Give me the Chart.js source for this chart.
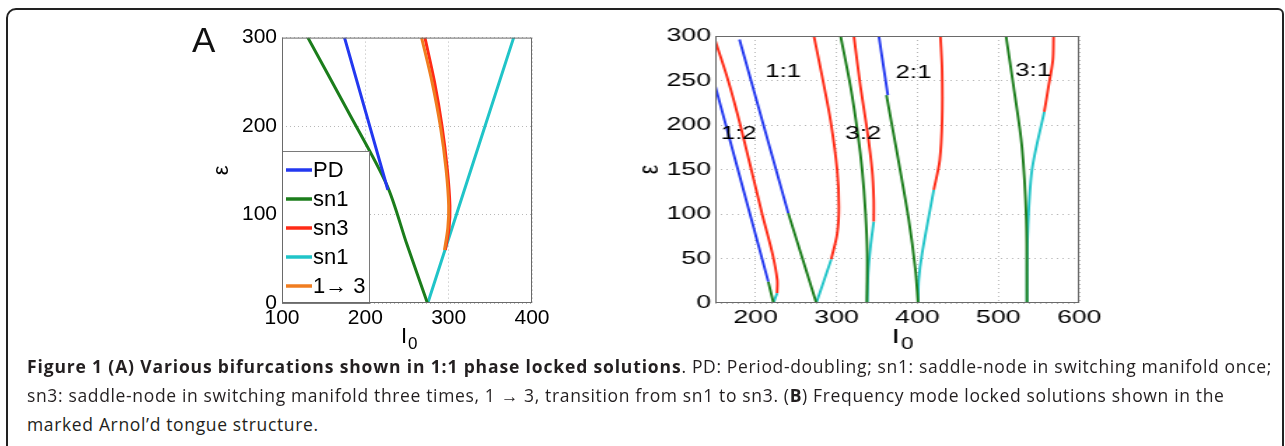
<!DOCTYPE html>
<html>
<head>
<meta charset="utf-8">
<script src="https://cdn.jsdelivr.net/npm/chart.js@4.4.0/dist/chart.umd.min.js"></script>
<style>
  html, body { margin: 0; padding: 0; background: #fff; }
  body { width: 1285px; height: 446px; position: relative; overflow: hidden; }
  #frame { position: absolute; left: 6px; top: 8px; width: 1278px; height: 520px; box-sizing: border-box;
           border: 2px solid #222; border-top-left-radius: 10px; border-top-right-radius: 6px; }
  canvas { position: absolute; }
  #chartA { left: 180px; top: 20px; }
  /* panel B of the original figure is stretched horizontally */
  #chartB { left: 620px; top: 20px; transform: scaleX(1.4); transform-origin: 0 0; }
  #panelA { position: absolute; left: 192px; top: 20px; font: 35px 'Liberation Sans', Arial, sans-serif; color: #111; }
  .cap { position: absolute; left: 27px; font-family: 'Open Sans', sans-serif; font-size: 17.5px; line-height: 22px;
         white-space: nowrap; color: #231f20; letter-spacing: 0.65px; }
  .cap b { font-weight: 700; letter-spacing: 0.85px; }
</style>
</head>
<body>
<div id="frame"></div>
<canvas id="chartA" width="380" height="335"></canvas>
<canvas id="chartB" width="360" height="335"></canvas>
<div id="panelA">A</div>
<div class="cap" style="top:355px"><b>Figure 1 (A) Various bifurcations shown in 1:1 phase locked solutions</b>. PD: Period-doubling; sn1: saddle-node in switching manifold once;</div>
<div class="cap" style="top:384px">sn3: saddle-node in switching manifold three times, 1 → 3, transition from sn1 to sn3. (<b style="letter-spacing:0.65px">B</b>) Frequency mode locked solutions shown in the</div>
<div class="cap" style="top:413px">marked Arnol’d tongue structure.</div>
<script>
// ---- panel A : 1:1 tongue, [I0, eps] pairs
const A_PD = [[175, 300], [227, 128]]
const A_SN1_left = [[131, 300], [179, 217], [226, 133], [250, 66], [274.5, 0]]
const A_SN3 = [[271.5, 300], [283, 250], [292, 200], [298.5, 150], [301.5, 110], [300.5, 85], [296, 60]]
const A_SN1_right = [[275, 0], [378, 300]]
const A_1to3 = [[267.5, 300], [280, 250], [290, 200], [297, 150], [300, 110], [299, 85], [295, 60]]
const A_labels = ['PD', 'sn1', 'sn3', 'sn1', '1\u2192 3']
const A_xTicks = [100, 200, 300, 400]
const A_yTicks = [0, 100, 200, 300]

// ---- panel B : Arnol'd tongues, [I0, eps] pairs
const B12_PD = [[150, 244], [215.6, 24]]
const B12_SN1 = [[215.6, 24], [222, 0]]
const B12_SN1c = [[222, 0], [226.5, 11]]
const B12_SN3 = [[226.5, 11], [226.7, 26], [220.6, 56], [208, 100], [181, 200], [166, 250], [150, 295]]

const B11_PD = [[180, 296], [240.3, 101]]
const B11_SN1 = [[240.3, 101], [275, 0]]
const B11_SN1c = [[275, 0], [293.4, 49]]
const B11_SN3 = [[293.4, 49], [300.8, 78], [302.9, 108], [300.8, 149], [292.6, 205], [282.3, 254], [272, 300]]

const B32_SN1 = [[305, 300], [317.3, 243], [326.3, 190], [331.7, 149], [335.8, 101], [337.9, 56], [337.5, 0]]
const B32_SN3 = [[321.4, 300], [329.6, 243], [337.9, 194], [344, 149], [346, 116], [346, 91.5]]
const B32_SN1c = [[346, 91.5], [342, 63.5], [339, 33.6], [337.9, 0]]

const B21_PD = [[352.3, 300], [363.4, 233.5]]
const B21_SN1 = [[361.7, 233.5], [374.9, 168], [389.3, 93.4], [397.5, 37.4], [400.8, 0]]
const B21_SN1c = [[400.8, 0], [401.6, 26], [405.8, 56], [420.2, 127]]
const B21_SN3 = [[420.2, 127], [427.6, 160.6], [430.5, 205.5], [430.5, 261.5], [428.4, 300]]

const B31_SN1 = [[509.5, 300], [518.9, 243], [529.2, 175.6], [534.6, 93.4], [535.4, 0]]
const B31_SN1c = [[535.4, 0], [536.2, 74.7], [541.6, 149.4], [556.8, 214.8]]
const B31_SN3 = [[556.8, 214.8], [562, 243], [567.4, 272.7], [568.3, 300]]

const B_tongueText = ['1:2', '1:1', '3:2', '2:1', '3:1']
const B_tongueI0 = [179, 234, 333, 395, 543]
const B_tongueEps = [190, 260, 190, 258, 261]
const B_xTicks = [200, 300, 400, 500, 600]
const B_yTicks = [0, 50, 100, 150, 200, 250, 300]

const BLUE = '#2338f0', GREEN = '#1b7d1b', RED = '#ff2b16', CYAN = '#20c4c8', ORANGE = '#f07d20'
const FONT = "'Liberation Sans', Arial, Helvetica, sans-serif"

Chart.defaults.font.family = FONT

function pts(arr) {
    return arr.map(p => ({ x: p[0], y: p[1] }))
}
function curve(arr, color, width, label, order) {
    return {
        label: label || '',
        data: pts(arr),
        borderColor: color,
        backgroundColor: color,
        borderWidth: width,
        pointRadius: 0,
        showLine: true,
        fill: false,
        tension: 0.3,
        order: order === undefined ? 2 : order
    }
}
function scales(xMin, xMax, xTicks, yMin, yMax, yTicks, size, yWidth, xHeight, yPad) {
    const grid = { color: '#b8b8b8', lineWidth: 1, drawTicks: false }
    const border = { display: false, dash: [1, 3] }
    const font = { family: FONT, size: size }
    return {
        x: {
            type: 'linear', min: xMin, max: xMax, grid, border,
            afterBuildTicks: s => { s.ticks = xTicks.map(v => ({ value: v })) },
            afterFit: s => { s.height = xHeight },
            ticks: { font, color: '#000', padding: 3, maxRotation: 0, autoSkip: false }
        },
        y: {
            type: 'linear', min: yMin, max: yMax, grid, border,
            afterBuildTicks: s => { s.ticks = yTicks.map(v => ({ value: v })) },
            afterFit: s => { s.width = yWidth },
            ticks: { font, color: '#000', padding: yPad, autoSkip: false }
        }
    }
}

// frame, eps and I0 titles
const frameTitles = {
    id: 'frameTitles',
    afterDraw(chart, args, opts) {
        const { ctx, chartArea: ca } = chart
        ctx.save()
        ctx.strokeStyle = '#6a6a6a'
        ctx.lineWidth = 1
        ctx.strokeRect(ca.left + 0.5, ca.top + 0.5, ca.right - ca.left - 1, ca.bottom - ca.top - 1)
        ctx.fillStyle = '#000'
        // eps
        ctx.save()
        ctx.translate(ca.left - opts.epsDx, (ca.top + ca.bottom) / 2)
        ctx.rotate(-Math.PI / 2)
        ctx.font = opts.epsSize + 'px ' + FONT
        ctx.textAlign = 'center'
        ctx.textBaseline = 'middle'
        ctx.fillText('\u03b5', 0, 0)
        ctx.restore()
        // I0
        const cx = (ca.left + ca.right) / 2
        ctx.font = opts.iSize + 'px ' + FONT
        const wI = ctx.measureText('I').width
        ctx.textAlign = 'left'
        ctx.textBaseline = 'alphabetic'
        ctx.fillText('I', cx - opts.iDx, ca.bottom + 40)
        ctx.font = Math.round(opts.iSize * 0.75) + 'px ' + FONT
        ctx.fillText('0', cx - opts.iDx + wI + 1, ca.bottom + 46)
        ctx.restore()
    }
}

const legendBox = {
    id: 'legendBox',
    afterDatasetsDraw(chart) {
        const { ctx, chartArea: ca } = chart
        const w = 87, h = 152
        const x0 = ca.left, y0 = ca.bottom - h
        ctx.save()
        ctx.fillStyle = '#fff'
        ctx.fillRect(x0, y0, w, h)
        ctx.strokeStyle = '#7a7a7a'
        ctx.lineWidth = 1
        ctx.strokeRect(x0 + 0.5, y0 + 0.5, w, h)
        ctx.font = '22px ' + FONT
        ctx.textBaseline = 'middle'
        chart.data.datasets.forEach((ds, i) => {
            const y = y0 + 19 + i * 29
            ctx.strokeStyle = ds.borderColor
            ctx.lineWidth = 3.5
            ctx.beginPath()
            ctx.moveTo(x0 + 4, y)
            ctx.lineTo(x0 + 30, y)
            ctx.stroke()
            ctx.fillStyle = '#000'
            ctx.fillText(ds.label, x0 + 31, y + 1)
        })
        ctx.restore()
    }
}

const tongueLabels = {
    id: 'tongueLabels',
    afterDatasetsDraw(chart) {
        const { ctx, scales: { x, y } } = chart
        ctx.save()
        ctx.font = '18.5px ' + FONT
        ctx.fillStyle = '#000'
        ctx.textAlign = 'center'
        ctx.textBaseline = 'middle'
        B_tongueText.forEach((t, i) => {
            ctx.fillText(t, x.getPixelForValue(B_tongueI0[i]), y.getPixelForValue(B_tongueEps[i]))
        })
        ctx.restore()
    }
}

new Chart(document.getElementById('chartA'), {
    type: 'scatter',
    data: {
        datasets: [
            curve(A_PD, BLUE, 3, A_labels[0]),
            curve(A_SN1_left, GREEN, 3, A_labels[1]),
            curve(A_SN3, RED, 3, A_labels[2], 1),
            curve(A_SN1_right, CYAN, 3, A_labels[3]),
            curve(A_1to3, ORANGE, 3, A_labels[4], 0)
        ]
    },
    options: {
        responsive: false,
        animation: false,
        layout: { padding: { left: 0, top: 13, right: 28, bottom: 0 } },
        scales: scales(100, 400, A_xTicks, 0, 300, A_yTicks, 21, 102, 52, 5),
        plugins: {
            legend: { display: false },
            tooltip: { enabled: false },
            frameTitles: { epsDx: 60, epsSize: 22, iSize: 22, iDx: 6 }
        }
    },
    plugins: [legendBox, frameTitles]
})

new Chart(document.getElementById('chartB'), {
    type: 'scatter',
    data: {
        datasets: [
            curve(B12_PD, BLUE, 1.9), curve(B12_SN1, GREEN, 1.9), curve(B12_SN1c, CYAN, 1.9), curve(B12_SN3, RED, 1.9),
            curve(B11_PD, BLUE, 1.9), curve(B11_SN1, GREEN, 1.9), curve(B11_SN1c, CYAN, 1.9), curve(B11_SN3, RED, 1.9),
            curve(B32_SN1, GREEN, 1.9), curve(B32_SN3, RED, 1.9), curve(B32_SN1c, CYAN, 1.9),
            curve(B21_PD, BLUE, 1.9), curve(B21_SN1, GREEN, 1.9), curve(B21_SN1c, CYAN, 1.9), curve(B21_SN3, RED, 1.9),
            curve(B31_SN1, GREEN, 1.9), curve(B31_SN1c, CYAN, 1.9), curve(B31_SN3, RED, 1.9)
        ]
    },
    options: {
        responsive: false,
        animation: false,
        layout: { padding: { left: 0, top: 16, right: 32, bottom: 0 } },
        scales: scales(150, 600, B_xTicks, 0, 300, B_yTicks, 19, 68, 52, 3),
        plugins: {
            legend: { display: false },
            tooltip: { enabled: false },
            frameTitles: { epsDx: 46.5, epsSize: 21, iSize: 21, iDx: 4 }
        }
    },
    plugins: [tongueLabels, frameTitles]
})
</script>
</body>
</html>
